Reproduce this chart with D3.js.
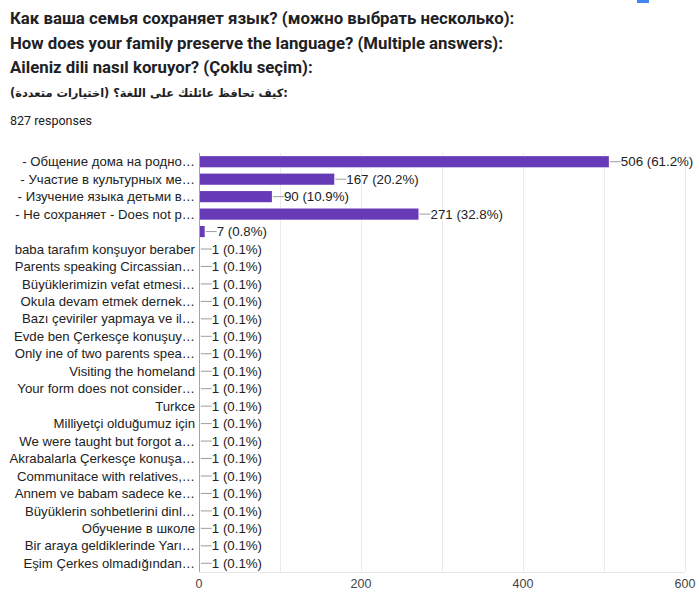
<!DOCTYPE html>
<html><head><meta charset="utf-8">
<script src="https://cdn.jsdelivr.net/npm/d3@7"></script>
<style>
body{margin:0;background:#fff;}
svg{display:block;}
</style></head><body>
<svg id="c" width="699" height="592"></svg>
<script>
const titleLines = [
  "Как ваша семья сохраняет язык? (можно выбрать несколько):",
  "How does your family preserve the language? (Multiple answers):",
  "Aileniz dili nasıl koruyor? (Çoklu seçim):",
  "كيف تحافظ عائلتك على اللغة؟ (اختيارات متعددة):"
];
const responsesText = "827 responses";
const categories = [
  "- Общение дома на родно…",
  "- Участие в культурных ме…",
  "- Изучение языка детьми в…",
  "- Не сохраняет - Does not p…",
  "",
  "baba tarafım konşuyor beraber",
  "Parents speaking Circassian…",
  "Büyüklerimizin vefat etmesi…",
  "Okula devam etmek dernek…",
  "Bazı çeviriler yapmaya ve il…",
  "Evde ben Çerkesçe konuşuy…",
  "Only ine of two parents spea…",
  "Visiting the homeland",
  "Your form does not consider…",
  "Turkce",
  "Milliyetçi olduğumuz için",
  "We were taught but forgot a…",
  "Akrabalarla Çerkesçe konuşa…",
  "Communitace with relatives,…",
  "Annem ve babam sadece ke…",
  "Büyüklerin sohbetlerini dinl…",
  "Обучение в школе",
  "Bir araya geldiklerinde Yarı…",
  "Eşim Çerkes olmadığından…"
];
const values = [506,167,90,271,7,1,1,1,1,1,1,1,1,1,1,1,1,1,1,1,1,1,1,1];
const percents = ["61.2%","20.2%","10.9%","32.8%","0.8%","0.1%","0.1%","0.1%","0.1%","0.1%","0.1%","0.1%","0.1%","0.1%","0.1%","0.1%","0.1%","0.1%","0.1%","0.1%","0.1%","0.1%","0.1%","0.1%"];
const xTicks = [0,200,400,600];
const gridTicks = [0,100,200,300,400,500,600];

const svg = d3.select("#c");
const data = categories.map((c,i)=>({id:i,label:c,v:values[i],p:percents[i]}));

// Title
svg.append("g").selectAll("text").data(titleLines).join("text")
  .attr("x",10).attr("y",(d,i)=>[24,49,73,97][i])
  .attr("font-family",(d,i)=> i===3 ? "'DejaVu Sans', Roboto, sans-serif" : "Roboto, 'Noto Sans', sans-serif")
  .attr("font-weight","bold")
  .attr("font-size",(d,i)=> i===3 ? 11.4 : 16.8)
  .attr("fill","#202124")
  .attr("direction","ltr")
  .text(d=>d);

svg.append("text").attr("x",10).attr("y",125)
  .attr("font-family","Roboto, sans-serif").attr("font-size",12.5).attr("fill","#202124")
  .text(responsesText);

const x = d3.scaleLinear().domain([0,600]).range([199,685]);
const y = d3.scaleBand().domain(data.map(d=>d.id)).range([153,572]).paddingInner(0.36).paddingOuter(0.18);

// grid
svg.append("g").selectAll("line").data(gridTicks).join("line")
  .attr("x1",d=>x(d)).attr("x2",d=>x(d)).attr("y1",153).attr("y2",572)
  .attr("stroke","#ebebeb").attr("stroke-width",1).attr("shape-rendering","crispEdges");
svg.append("line").attr("x1",x(0)).attr("x2",x(600)).attr("y1",572).attr("y2",572)
  .attr("stroke","#e6e6e6").attr("shape-rendering","crispEdges");

// bars
svg.append("g").selectAll("rect").data(data).join("rect")
  .attr("x",x(0)).attr("y",d=>y(d.id)).attr("height",y.bandwidth())
  .attr("width",d=>Math.max(0,x(d.v)-x(0)))
  .attr("fill","#673ab7");

// axis line
svg.append("line").attr("x1",x(0)+0.5).attr("x2",x(0)+0.5).attr("y1",153).attr("y2",572)
  .attr("stroke","#a99cc4").attr("stroke-width",1);

// category labels
svg.append("g").selectAll("text").data(data).join("text")
  .attr("x",x(0)-4).attr("y",d=>y(d.id)+y.bandwidth()/2).attr("dy","0.35em")
  .attr("text-anchor","end").attr("font-family","'Liberation Sans', Arial, sans-serif")
  .attr("font-size",13.2).attr("fill","#222").text(d=>d.label);

// leader lines and value labels
const vl = svg.append("g").selectAll("g").data(data).join("g");
vl.append("line")
  .attr("x1",d=>x(d.v)+1).attr("x2",d=>x(d.v)+12)
  .attr("y1",d=>y(d.id)+y.bandwidth()/2).attr("y2",d=>y(d.id)+y.bandwidth()/2)
  .attr("stroke","#9e9e9e").attr("stroke-width",1);
vl.append("text")
  .attr("x",d=>x(d.v)+12).attr("y",d=>y(d.id)+y.bandwidth()/2).attr("dy","0.35em")
  .attr("font-family","'Liberation Sans', Arial, sans-serif").attr("font-size",13.3)
  .attr("fill","#222").text(d=>`${d.v} (${d.p})`);

// x tick labels
svg.append("g").selectAll("text").data(xTicks).join("text")
  .attr("x",d=>x(d)).attr("y",588).attr("text-anchor","middle")
  .attr("font-family","'Liberation Sans', Arial, sans-serif").attr("font-size",12.5)
  .attr("fill","#444").text(d=>d);

// top-right artifact
svg.append("rect").attr("x",637).attr("y",0).attr("width",12).attr("height",3).attr("fill","#4285f4");
</script>
</body></html>
